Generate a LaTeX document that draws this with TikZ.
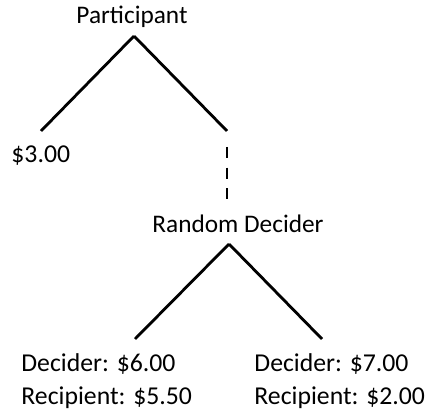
\documentclass[tikz,border=0pt]{standalone}
\usepackage{fontspec}
\setmainfont{Carlito}
\usetikzlibrary{positioning, calc}

\begin{document}
\begin{tikzpicture}[x=0.025cm, y=-0.025cm, semithick,
  every node/.style={inner sep=0pt, font=\fontsize{18}{22}\selectfont},
  payoff/.style={font=\fontsize{18.3}{23}\selectfont, align=left},
  branch/.style={line width=2pt},
  chance/.style={line width=2pt, dash pattern=on 0.275cm off 0.24cm}]
  \useasboundingbox (0,0) rectangle (426,411);
  % decision nodes
  \node[anchor=base] (part) at (132,24) {Participant};
  \node[anchor=base] (rand) at (238,233) {Random Decider};
  % payoffs
  \node[payoff, anchor=base west] (keep) at (11,163) {\$3.00};
  \node[payoff, anchor=west] (left) at (21,381) {Decider: \$6.00\\Recipient: \$5.50};
  \node[payoff, anchor=west] (right) at (254,381) {Decider: \$7.00\\Recipient: \$2.00};
  % branch points
  \coordinate (top1) at (134,36);
  \coordinate (keepend) at (41,131);
  \coordinate (passend) at (227,131);
  \coordinate (dashtop) at (227,147);
  \coordinate (dashbot) at (227,199);
  \coordinate (top2) at (229,244);
  \coordinate (leftend) at (135,339);
  \coordinate (rightend) at (322,339);
  \path[branch]
    (top1) edge (keepend)
    (top1) edge (passend)
    (top2) edge (leftend)
    (top2) edge (rightend);
  \path[chance]
    (dashtop) edge (dashbot);
\end{tikzpicture}
\end{document}
